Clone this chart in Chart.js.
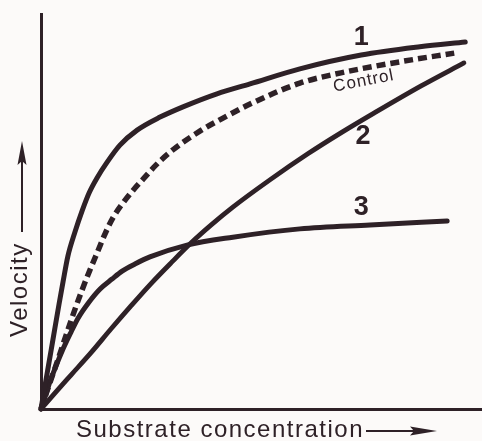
<!DOCTYPE html>
<html><head><meta charset="utf-8">
<script src="https://cdn.jsdelivr.net/npm/chart.js@4.4.1/dist/chart.umd.min.js"></script>
<style>html,body{margin:0;padding:0;background:#fcfaf9;}canvas{display:block;}</style>
</head><body><canvas id="c" width="482" height="441"></canvas>
<script>
// Substrate concentration (arbitrary units, 0-100) and velocity (arbitrary units, 0-100)
const curve1X = [0, 0.7, 1.4, 2.3, 3.2, 4.1, 5.0, 6.1, 7.7, 9.3, 10.9, 12.7, 15.0, 17.9, 21.8, 27.0, 32.2, 39.9, 47.4, 58.7, 72.6, 85.9, 96.2];
const curve1Y = [0, 4.6, 9.1, 14.9, 20.8, 26.6, 32.2, 38.7, 44.8, 50.1, 54.7, 58.5, 62.5, 66.8, 70.6, 73.9, 76.5, 79.8, 82.3, 86.1, 89.6, 91.7, 92.9];

const controlX = [0, 2.0, 3.9, 5.7, 7.5, 9.3, 11.1, 12.9, 14.5, 16.3, 18.6, 20.9, 23.4, 26.1, 29.9, 36.1, 42.2, 47.4, 58.7, 68.0, 81.4, 93.7];
const controlY = [0, 6.6, 12.7, 18.7, 24.6, 30.1, 35.2, 40.0, 44.3, 48.4, 52.2, 55.4, 58.5, 61.8, 65.6, 70.4, 74.2, 77.2, 82.5, 85.1, 87.9, 90.1];

const curve2X = [0, 3.2, 6.8, 11.3, 15.9, 20.4, 24.9, 29.5, 34.0, 38.6, 43.5, 51.9, 60.5, 68.0, 75.5, 86.2, 95.9];
const curve2Y = [0, 4.1, 8.6, 14.2, 20.3, 26.1, 31.7, 37.0, 42.0, 46.6, 51.1, 58.0, 64.6, 69.9, 74.9, 81.8, 87.6];

const curve3X = [0, 0.9, 2.0, 3.4, 4.8, 6.6, 8.4, 10.7, 13.4, 16.1, 18.4, 21.3, 24.7, 33.1, 43.5, 58.7, 74.6, 92.1];
const curve3Y = [0, 3.0, 6.8, 10.9, 14.7, 19.0, 23.0, 26.8, 30.4, 32.9, 34.9, 36.7, 38.5, 41.5, 43.5, 45.6, 46.6, 47.6];

const seriesNames = ['1', 'Control', '2', '3'];
const xAxisTitle = 'Substrate concentration';
const yAxisTitle = 'Velocity';

const INK = '#2e2127';
const toPts = (xs, ys) => xs.map((x, i) => ({x: x, y: ys[i]}));

const labelPlugin = {
  id: 'labels',
  afterDraw(chart) {
    const ctx = chart.ctx;
    const xs = chart.scales.x, ys = chart.scales.y;
    const ca = chart.chartArea;
    ctx.save();
    ctx.fillStyle = INK;
    ctx.strokeStyle = INK;
    // curve numbers
    ctx.font = 'bold 27px "Liberation Sans", Arial, sans-serif';
    ctx.textAlign = 'center';
    ctx.textBaseline = 'middle';
    const nums = [['1', 72.6, 94.0], ['2', 73.0, 68.9], ['3', 72.6, 51.1]];
    nums.forEach(n => ctx.fillText(n[0], xs.getPixelForValue(n[1]), ys.getPixelForValue(n[2])));
    // Control label
    ctx.save();
    ctx.translate(xs.getPixelForValue(73.2), ys.getPixelForValue(83.0));
    ctx.rotate(-11 * Math.PI / 180);
    ctx.font = '17px "Liberation Sans", Arial, sans-serif';
    ctx.letterSpacing = '1px';
    ctx.fillText(seriesNames[1], 0, 0);
    ctx.restore();
    // x axis title
    ctx.font = '24px "Liberation Sans", Arial, sans-serif';
    ctx.letterSpacing = '1.5px';
    ctx.textAlign = 'left';
    ctx.textBaseline = 'alphabetic';
    ctx.fillText(xAxisTitle, ca.left + 35, ca.bottom + 28);
    // x arrow
    const ay = ca.bottom + 22;
    ctx.lineWidth = 2;
    ctx.beginPath(); ctx.moveTo(366, ay); ctx.lineTo(430, ay); ctx.stroke();
    ctx.beginPath(); ctx.moveTo(437, ay); ctx.lineTo(410, ay - 4.5); ctx.lineTo(414, ay); ctx.lineTo(410, ay + 4.5); ctx.closePath(); ctx.fill();
    // y axis title
    ctx.save();
    ctx.translate(27, 337);
    ctx.rotate(-Math.PI / 2);
    ctx.fillText(yAxisTitle, 0, 0);
    ctx.restore();
    // y arrow
    const ax = 22;
    ctx.beginPath(); ctx.moveTo(ax, 232); ctx.lineTo(ax, 150); ctx.stroke();
    ctx.beginPath(); ctx.moveTo(ax, 141); ctx.lineTo(ax - 4.5, 165); ctx.lineTo(ax, 161); ctx.lineTo(ax + 4.5, 165); ctx.closePath(); ctx.fill();
    ctx.restore();
  }
};

new Chart(document.getElementById('c'), {
  type: 'scatter',
  data: {
    datasets: [
      {label: seriesNames[0], data: toPts(curve1X, curve1Y), borderWidth: 5, borderCapStyle: 'round'},
      {label: seriesNames[1], data: toPts(controlX, controlY), borderWidth: 5.5, borderDash: [9, 5], borderCapStyle: 'butt'},
      {label: seriesNames[2], data: toPts(curve2X, curve2Y), borderWidth: 4.8, borderCapStyle: 'round'},
      {label: seriesNames[3], data: toPts(curve3X, curve3Y), borderWidth: 5, borderCapStyle: 'round'}
    ].map(d => Object.assign({showLine: true, pointRadius: 0, borderColor: INK, backgroundColor: INK, cubicInterpolationMode: 'monotone', borderJoinStyle: 'round', fill: false, clip: 10}, d))
  },
  options: {
    responsive: false,
    animation: false,
    devicePixelRatio: 1,
    layout: {padding: {left: 41, top: 14, right: 0, bottom: 32}},
    plugins: {legend: {display: false}, tooltip: {enabled: false}},
    scales: {
      x: {type: 'linear', min: 0, max: 100,
          grid: {display: false, drawTicks: false},
          ticks: {display: false},
          border: {display: true, color: INK, width: 3}},
      y: {type: 'linear', min: 0, max: 100,
          grid: {display: false, drawTicks: false},
          ticks: {display: false},
          border: {display: true, color: INK, width: 3}}
    }
  },
  plugins: [labelPlugin]
});
</script>
</body></html>
